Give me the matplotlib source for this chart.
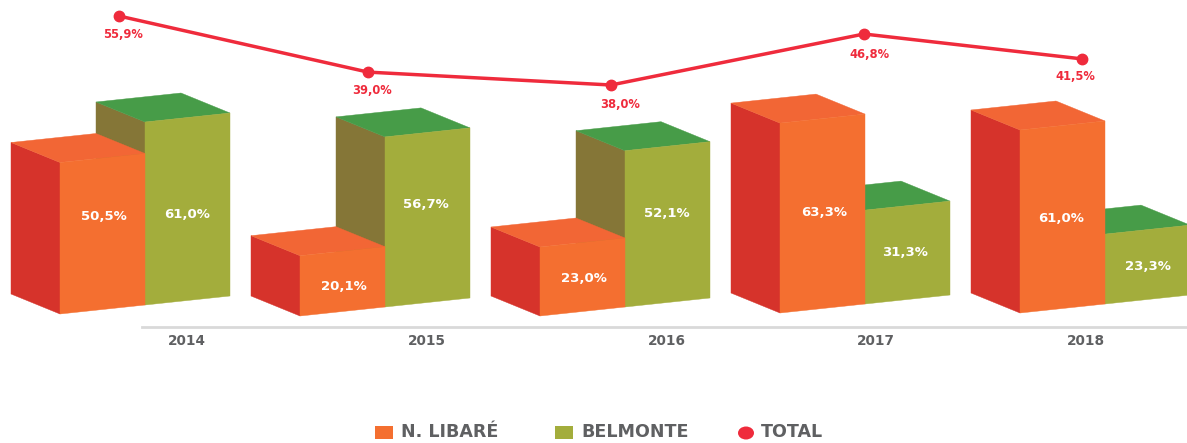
import matplotlib
matplotlib.use('Agg')
import matplotlib.pyplot as plt
from matplotlib.patches import Polygon, Rectangle, Ellipse

years = ['2014', '2015', '2016', '2017', '2018']
libare = [50.5, 20.1, 23.0, 63.3, 61.0]
belmonte = [61.0, 56.7, 52.1, 31.3, 23.3]
total = [55.9, 39.0, 38.0, 46.8, 41.5]
# height of the total line on the bar scale, it does not follow the bar axis
total_height = [100.0, 81.3, 77.0, 94.0, 85.7]

W, H = 1187, 443
PX_X = 1 / 240      # one group is 240 px wide
PX_Y = 1 / 3        # one percent is 3 px high
AXIS_Y = 327
ZERO_Y = 316

# layout, all in px
base_shift = [2, 0, 0, 3, 3]
total_dx = [108, 117, 120, 133, 111]
total_label_xy = [(123, 34), (372, 90), (620, 105), (869, 54), (1075, 77)]
year_x = [187, 427, 667, 876, 1086]
libare_label_xy = [(104, 216), (344, 287), (584, 278), (824, 213), (1061, 218)]
belmonte_label_xy = [(187, 215), (426, 204), (667, 214), (905, 252), (1148, 267)]

DEPTH_X, DEPTH_Y = 49 * PX_X, 20 * PX_Y
BAR_W, RISE = 85 * PX_X, 9 * PX_Y

ORANGE, ORANGE_TOP, RED_SIDE = '#F46F30', '#F26635', '#D6332B'
OLIVE, GREEN_TOP, BROWN_SIDE = '#A3AD3C', '#479C48', '#857637'
LINE_RED = '#EF2B3C'
GREY = '#5F6062'


def draw_bar(ax, x, base, value, front, top, side):
    # x, base = bottom corner nearest to the viewer
    y = base + value
    ax.add_patch(Polygon([(x, base), (x - DEPTH_X, base + DEPTH_Y), (x - DEPTH_X, y + DEPTH_Y), (x, y)],
                         fc=side, ec=side, lw=0.3))
    ax.add_patch(Polygon([(x, y), (x - DEPTH_X, y + DEPTH_Y), (x - DEPTH_X + BAR_W, y + DEPTH_Y + RISE), (x + BAR_W, y + RISE)],
                         fc=top, ec=top, lw=0.3))
    ax.add_patch(Polygon([(x, base), (x + BAR_W, base + RISE), (x + BAR_W, y + RISE), (x, y)],
                         fc=front, ec=front, lw=0.3))


def px_text(x, y, s, **kwargs):
    plt.gcf().text(x / W, 1 - y / H, s, ha='center', va='center', fontweight='bold', **kwargs)


def main():
    fig = plt.figure(figsize=(W / 100, H / 100), dpi=100)
    ax = fig.add_axes([0, (H - AXIS_Y) / H, 1, AXIS_Y / H])
    ax.set_xlim(-11 * PX_X, (W - 11) * PX_X)
    ax.set_ylim((ZERO_Y - AXIS_Y) * PX_Y, ZERO_Y * PX_Y)

    for i in range(len(years)):
        x = i + DEPTH_X
        base = base_shift[i] * PX_Y
        draw_bar(ax, x + BAR_W, base + RISE, belmonte[i], OLIVE, GREEN_TOP, BROWN_SIDE)
        draw_bar(ax, x, base, libare[i], ORANGE, ORANGE_TOP, RED_SIDE)

    line_x = [i + dx * PX_X for i, dx in enumerate(total_dx)]
    ax.plot(line_x, total_height, color=LINE_RED, lw=2.5, marker='o', ms=7.5, clip_on=False)

    for i in range(len(years)):
        px_text(*libare_label_xy[i], f'{libare[i]:.1f}%'.replace('.', ','), color='white', fontsize=9.5)
        px_text(*belmonte_label_xy[i], f'{belmonte[i]:.1f}%'.replace('.', ','), color='white', fontsize=9.5)
        px_text(*total_label_xy[i], f'{total[i]:.1f}%'.replace('.', ','), color=LINE_RED, fontsize=8.3)

    # x axis: only the bottom spine, starts under the first bar
    for side in ['top', 'left', 'right']:
        ax.spines[side].set_visible(False)
    ax.spines['bottom'].set_color('#D9D9D9')
    ax.spines['bottom'].set_linewidth(2)
    ax.spines['bottom'].set_bounds(131 * PX_X, (W - 11) * PX_X)
    ax.set_yticks([])
    ax.set_xticks([(x - 11) * PX_X for x in year_x])
    ax.set_xticklabels(years, fontweight='bold', fontsize=9.8, color=GREY)
    ax.tick_params(axis='x', length=0, pad=5)
    ax.patch.set_alpha(0)

    # legend
    fig.add_artist(Rectangle((375 / W, 1 - 439 / H), 18 / W, 13 / H, fc=ORANGE, ec='none', transform=fig.transFigure))
    fig.add_artist(Rectangle((555 / W, 1 - 439 / H), 18 / W, 13 / H, fc=OLIVE, ec='none', transform=fig.transFigure))
    fig.add_artist(Ellipse((746 / W, 1 - 433 / H), 16 / W, 13 / H, fc=LINE_RED, ec='none', transform=fig.transFigure))
    px_text(449.5, 432, 'N. LIBARÉ', color=GREY, fontsize=12.6)
    px_text(635, 432, 'BELMONTE', color=GREY, fontsize=12.6)
    px_text(792, 432, 'TOTAL', color=GREY, fontsize=12.6)

    fig.savefig('out.png', dpi=100)


if __name__ == "__main__":
    main()
